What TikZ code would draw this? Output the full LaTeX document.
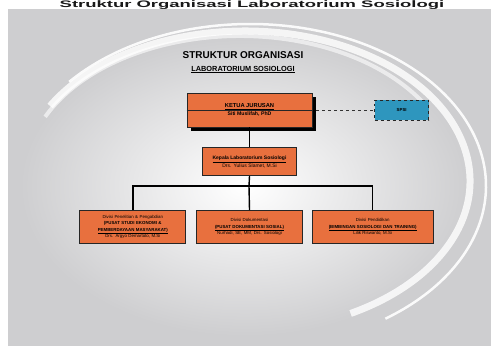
\documentclass[tikz,border=0pt]{standalone}
\usepackage{fontspec}
\setmainfont{Liberation Sans}
\usetikzlibrary{positioning,shadows}

\definecolor{orgorange}{RGB}{232,112,62}
\definecolor{orgblue}{RGB}{46,150,190}
\definecolor{bggray}{RGB}{206,206,208}

\tikzset{
  unit/.style={draw=black!85, fill=orgorange, line width=0.7bp, inner sep=0pt,
    minimum height=33bp, align=center, font=\fontsize{4.4}{6.3}\selectfont},
  bus/.style={draw=black, line width=1.4bp},
}

\begin{document}
\begin{tikzpicture}[x=1bp,y=1bp]
  \useasboundingbox (0,0) rectangle (491,346);
  % background
  \fill[white] (0,0) rectangle (491,346);
  \fill[bggray] (8,0) rectangle (491,337);
  \shade[inner color=white, outer color=bggray] (245,160) ellipse (225 and 150);
  \draw[white, line width=7bp, opacity=0.8] (245,165) ++(150:225 and 150) arc (150:-62:225 and 150);
  \draw[white, line width=2.5bp, opacity=0.9] (250,160) ++(140:236 and 162) arc (140:-55:236 and 162);
  \draw[white, line width=4bp, opacity=0.6] (240,170) ++(155:215 and 140) arc (155:30:215 and 140);

  % titles
  \node[anchor=north, inner sep=0pt, xscale=1.95, font=\fontsize{9.5}{9.5}\selectfont\bfseries, text=black!90] (title) at (252,345.5) {Struktur Organisasi Laboratorium Sosiologi};
  \node[font=\fontsize{10}{10}\selectfont\bfseries] (head) at (243,291) {STRUKTUR ORGANISASI};
  \node[font=\fontsize{7.4}{7.4}\selectfont\bfseries, below=0.5bp of head] (sub) {\underline{LABORATORIUM SOSIOLOGI}};

  % boxes
  \node[unit, minimum width=125bp, minimum height=34bp, text width=120bp,
    drop shadow={shadow xshift=4bp, shadow yshift=-4bp, fill=black, opacity=1}] (ketua) at (249.5,236)
    {\fontsize{5.8}{7}\selectfont\textbf{\underline{KETUA JURUSAN}}\\[1.5bp] \fontsize{5.2}{6}\selectfont\textbf{Siti Muslifah, PhD}};
  \draw[black!85, line width=0.5bp] (ketua.west) -- (ketua.east);
  \node[unit, fill=orgblue, dashed, minimum width=54bp, minimum height=20bp, right=62bp of ketua] (staf)
    {\textbf{SPSI}};
  \node[unit, minimum width=94bp, minimum height=28bp, text width=90bp, below=20bp of ketua] (kepala)
    {\fontsize{5}{7}\selectfont\textbf{\underline{Kepala Laboratorium Sosiologi}}\\ Drs. Yulius Slamet, M.Si};
  \node[unit, minimum width=106bp, text width=102bp, below=34bp of kepala] (dok)
    {Divisi Dokumentasi\\ \textbf{\underline{(PUSAT DOKUMENTASI SOSIAL)}}\\ Nurhadi, SE, MM, Drs. Sosiologi};
  \node[unit, minimum width=106bp, text width=102bp, left=10bp of dok] (penel)
    {Divisi Penelitian \& Pengabdian\\ \textbf{(PUSAT STUDI EKONOMI \&}\\ \textbf{\underline{PEMBERDAYAAN MASYARAKAT)}}\\ Drs. Argyo Demartoto, M.Si};
  \node[unit, minimum width=121bp, text width=117bp, right=9bp of dok] (didik)
    {Divisi Pendidikan\\ \textbf{\underline{(BIMBINGAN SOSIOLOGI DAN TRAINING)}}\\ Lilik Riswanto, M.Si};

  % connectors
  \coordinate (split) at (249,160);
  \draw[bus] (ketua.south) -- (kepala.north);
  \draw[bus] (kepala.south) -- (split);
  \draw[bus] (penel.north) |- (split) -| (didik.north);
  \draw[bus] (split) -- (dok.north);
  \draw[black!80, dashed, line width=0.8bp] ([xshift=4bp]ketua.east) -- (staf.west);
\end{tikzpicture}
\end{document}
